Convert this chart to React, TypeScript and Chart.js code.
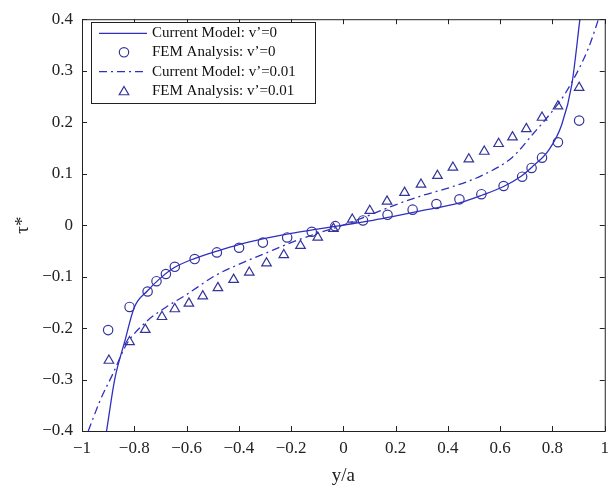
import React, { useEffect, useRef } from "react";
import { Chart, registerables } from "chart.js";

Chart.register(...registerables);

// Current Model: v'=0 (solid)
const solidX = [-0.906, -0.875, -0.837, -0.80, -0.75, -0.70, -0.645, -0.57, -0.48, -0.40, -0.30, -0.20, -0.10, 0, 0.10, 0.192, 0.30, 0.444, 0.53, 0.613, 0.68, 0.722, 0.785, 0.836, 0.874, 0.905];
const solidY = [-0.40, -0.30, -0.227, -0.160, -0.128, -0.103, -0.082, -0.065, -0.050, -0.038, -0.026, -0.016, -0.008, 0, 0.008, 0.017, 0.028, 0.043, 0.058, 0.075, 0.095, 0.113, 0.145, 0.196, 0.273, 0.40];

// FEM Analysis: v'=0 (circles)
const femCircleX = [-0.900, -0.818, -0.749, -0.715, -0.679, -0.645, -0.569, -0.484, -0.399, -0.308, -0.215, -0.121, -0.031, 0.075, 0.169, 0.265, 0.356, 0.444, 0.528, 0.613, 0.684, 0.720, 0.760, 0.821, 0.902];
const femCircleY = [-0.204, -0.159, -0.129, -0.109, -0.095, -0.081, -0.066, -0.053, -0.044, -0.034, -0.024, -0.013, -0.002, 0.009, 0.020, 0.030, 0.041, 0.050, 0.060, 0.076, 0.094, 0.111, 0.131, 0.161, 0.203];

// Current Model: v'=0.01 (dash-dot)
const dashX = [-0.976, -0.93, -0.88, -0.83, -0.755, -0.68, -0.60, -0.49, -0.376, -0.30, -0.20, -0.10, 0, 0.103, 0.192, 0.293, 0.419, 0.533, 0.647, 0.722, 0.81, 0.848, 0.937, 0.976];
const dashY = [-0.40, -0.34, -0.287, -0.232, -0.188, -0.160, -0.135, -0.098, -0.071, -0.055, -0.034, -0.016, 0, 0.020, 0.038, 0.056, 0.075, 0.097, 0.132, 0.175, 0.228, 0.255, 0.343, 0.40];

// FEM Analysis: v'=0.01 (triangles)
const femTriX = [-0.897, -0.818, -0.758, -0.694, -0.645, -0.591, -0.538, -0.480, -0.420, -0.360, -0.294, -0.228, -0.164, -0.098, -0.038, 0.034, 0.101, 0.167, 0.234, 0.297, 0.360, 0.419, 0.480, 0.539, 0.594, 0.647, 0.700, 0.760, 0.821, 0.902];
const femTriY = [-0.263, -0.227, -0.203, -0.178, -0.163, -0.152, -0.138, -0.122, -0.106, -0.092, -0.074, -0.058, -0.040, -0.024, -0.007, 0.011, 0.028, 0.046, 0.063, 0.079, 0.096, 0.112, 0.128, 0.143, 0.158, 0.171, 0.187, 0.209, 0.231, 0.267];

const xTicks = [-1, -0.8, -0.6, -0.4, -0.2, 0, 0.2, 0.4, 0.6, 0.8, 1];
const yTicks = [-0.4, -0.3, -0.2, -0.1, 0, 0.1, 0.2, 0.3, 0.4];

const legendLabels = [
  "Current Model: v\u2019=0",
  "FEM Analysis: v\u2019=0",
  "Current Model: v\u2019=0.01",
  "FEM Analysis: v\u2019=0.01",
];

const LINE = "#2f2fc0";
const MARK = "#34349a";
const SERIF = "'Liberation Serif', 'Times New Roman', serif";

const zip = (xs: number[], ys: number[]) => xs.map((x, i) => ({ x, y: ys[i] }));
const fmt = (v: number) => {
  const r = Math.round(v * 10) / 10;
  if (r === 0) return "0";
  const s = Math.abs(r).toString();
  return r < 0 ? "\u2212" + s : s;
};

const framePlugin = {
  id: "frame",
  afterDatasetsDraw(chart: any) {
    const { ctx, chartArea: a, scales } = chart;
    ctx.save();
    ctx.strokeStyle = "#222";
    ctx.lineWidth = 1;
    ctx.strokeRect(a.left + 0.5, a.top + 0.5, a.right - a.left, a.bottom - a.top);
    const L = 5;
    ctx.beginPath();
    xTicks.forEach((t) => {
      const px = Math.round(scales.x.getPixelForValue(t)) + 0.5;
      ctx.moveTo(px, a.bottom);
      ctx.lineTo(px, a.bottom - L);
      ctx.moveTo(px, a.top);
      ctx.lineTo(px, a.top + L);
    });
    yTicks.forEach((t) => {
      const py = Math.round(scales.y.getPixelForValue(t)) + 0.5;
      ctx.moveTo(a.left, py);
      ctx.lineTo(a.left + L, py);
      ctx.moveTo(a.right, py);
      ctx.lineTo(a.right - L, py);
    });
    ctx.stroke();

    // legend box
    const bx = 91, by = 22, bw = 224, bh = 81;
    ctx.fillStyle = "#fff";
    ctx.fillRect(bx, by, bw, bh);
    ctx.strokeStyle = "#222";
    ctx.strokeRect(bx + 0.5, by + 0.5, bw, bh);
    const rows = [33.3, 52.3, 71.7, 91];
    ctx.font = "15px " + SERIF;
    ctx.textBaseline = "middle";
    ctx.fillStyle = "#111";
    legendLabels.forEach((lab, i) => {
      const y = rows[i];
      ctx.save();
      if (i === 0 || i === 2) {
        ctx.strokeStyle = LINE;
        ctx.lineWidth = 1.3;
        ctx.setLineDash(i === 2 ? [8, 4, 2, 4] : []);
        ctx.beginPath();
        ctx.moveTo(99, y);
        ctx.lineTo(147, y);
        ctx.stroke();
      } else {
        ctx.strokeStyle = MARK;
        ctx.lineWidth = 1.2;
        ctx.beginPath();
        if (i === 1) {
          ctx.arc(124, y, 4.7, 0, Math.PI * 2);
        } else {
          const r = 5.5;
          for (let k = 0; k < 3; k++) {
            const ang = (k * 2 * Math.PI) / 3;
            const px = 124 + Math.sin(ang) * r;
            const py = y + 1 - Math.cos(ang) * r;
            if (k === 0) ctx.moveTo(px, py);
            else ctx.lineTo(px, py);
          }
          ctx.closePath();
        }
        ctx.stroke();
      }
      ctx.restore();
      ctx.fillText(lab, 152, y);
    });
    ctx.restore();
  },
};

export default function App() {
  const ref = useRef<HTMLCanvasElement | null>(null);
  useEffect(() => {
    document.body.style.margin = "0";
    const canvas = ref.current;
    if (!canvas) return;
    const chart = new Chart(canvas, {
      type: "scatter",
      data: {
        datasets: [
          {
            label: legendLabels[0],
            data: zip(solidX, solidY),
            showLine: true,
            pointRadius: 0,
            borderColor: LINE,
            borderWidth: 1.3,
            cubicInterpolationMode: "monotone",
          },
          {
            label: legendLabels[1],
            data: zip(femCircleX, femCircleY),
            pointStyle: "circle",
            pointRadius: 4.7,
            pointBorderWidth: 1.2,
            pointBorderColor: MARK,
            pointBackgroundColor: "rgba(0,0,0,0)",
            showLine: false,
          },
          {
            label: legendLabels[2],
            data: zip(dashX, dashY),
            showLine: true,
            pointRadius: 0,
            borderColor: LINE,
            borderWidth: 1.3,
            borderDash: [8, 4, 2, 4],
            cubicInterpolationMode: "monotone",
          },
          {
            label: legendLabels[3],
            data: zip(femTriX, femTriY),
            pointStyle: "triangle",
            pointRadius: 5.5,
            pointBorderWidth: 1.2,
            pointBorderColor: MARK,
            pointBackgroundColor: "rgba(0,0,0,0)",
            showLine: false,
          },
        ] as any,
      },
      options: {
        animation: false,
        responsive: false,
        devicePixelRatio: 1,
        layout: { padding: { top: 14, right: 6, left: 0, bottom: 0 } },
        plugins: { legend: { display: false }, tooltip: { enabled: false } },
        scales: {
          x: {
            type: "linear",
            min: -1,
            max: 1,
            afterBuildTicks: (s: any) => {
              s.ticks = xTicks.map((v) => ({ value: v }));
            },
            afterFit: (s: any) => {
              s.height = 56;
            },
            grid: { display: false, drawTicks: false },
            border: { display: false },
            ticks: {
              padding: 7,
              maxRotation: 0,
              autoSkip: false,
              color: "#222",
              font: { family: SERIF, size: 17 },
              callback: (v: any) => fmt(Number(v)),
            },
            title: {
              display: true,
              text: "y/a",
              color: "#222",
              font: { family: SERIF, size: 19 },
              padding: { top: 0, bottom: 0 },
            },
          },
          y: {
            type: "linear",
            min: -0.4,
            max: 0.4,
            afterBuildTicks: (s: any) => {
              s.ticks = yTicks.map((v) => ({ value: v }));
            },
            afterFit: (s: any) => {
              s.width = 82;
            },
            grid: { display: false, drawTicks: false },
            border: { display: false },
            ticks: {
              padding: 9,
              autoSkip: false,
              color: "#222",
              font: { family: SERIF, size: 17 },
              callback: (v: any) => fmt(Number(v)),
            },
            title: {
              display: true,
              text: "\u03c4*",
              color: "#222",
              font: { family: SERIF, size: 19 },
              padding: { top: 12, bottom: 0 },
            },
          },
        },
      },
      plugins: [framePlugin],
    });
    return () => chart.destroy();
  }, []);
  return (
    <div style={{ width: 616, height: 487, background: "#fff" }}>
      <canvas ref={ref} width={616} height={487} style={{ display: "block" }} />
    </div>
  );
}
